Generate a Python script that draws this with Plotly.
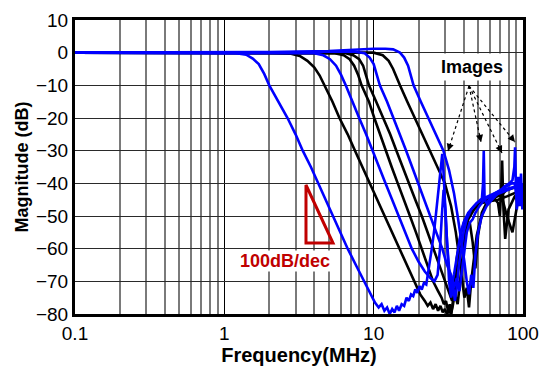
import plotly.graph_objects as go

# ---------------- data (frequency in MHz, magnitude in dB) ----------------
f1 = [0.1, 0.2, 0.4, 0.8, 1.2, 1.4, 1.55, 1.7, 1.85, 2.0, 2.3, 2.65, 3.0, 3.35, 3.8, 4.25, 4.8, 5.35, 6.0, 6.7, 7.6, 8.6, 9.5, 10.2, 10.8, 11.3, 11.8, 12.3, 12.8, 13.3, 13.8, 14.3, 14.8, 15.4, 16.0, 16.6, 17.2, 17.8, 18.4, 19.0, 19.6, 20.3, 21.0, 21.7, 22.5, 23.5, 24.5, 25.5, 26.5, 27.5, 28.3, 28.8, 29.3, 30.0, 31.0, 32.0, 33.0, 34.5, 36.0, 38.0, 40.0, 43.0, 47.0, 52.0, 58.0, 65.0, 72.0, 80.0, 90.0, 100.0]
m1 = [0, 0, 0, 0, -0.2, -0.6, -1.8, -3.5, -6.5, -10, -15, -20, -25, -30, -35, -40, -45, -50, -55, -60, -65, -70, -74, -76.5, -78, -77, -79, -78, -80, -78.5, -79.5, -77.5, -79, -77, -77.5, -75, -76, -74, -74.5, -72.5, -73.5, -71.5, -72.5, -70.5, -71, -66, -60, -54, -47, -40, -34, -31, -36, -46, -58, -66, -72, -68, -62, -56, -52, -49, -47, -45, -44, -43, -42, -41.5, -41, -41]

fA = [0.1, 0.3, 1, 2, 2.8, 3.2, 3.6, 4.0, 4.35, 4.7, 5.3, 5.9, 6.7, 7.5, 8.4, 9.4, 10.5, 11.8, 13.3, 14.9, 16.7, 18.7, 20.5, 22.0, 23.0, 24.0, 25.0, 26.0, 27.0, 28.0, 29.0, 30.0, 31.0, 32.0, 33.0, 34.0, 35.0, 36.5, 38.0, 40.0, 43.0, 47.0, 52.0, 58.0, 64.0, 68.0, 70.0, 71.5, 72.5, 74.0, 76.0, 80.0, 88.0, 95.0, 100.0]
mA = [0, 0, 0, 0, -0.3, -1, -2.5, -4.5, -7, -10, -15, -20, -25, -30, -35, -40, -45, -50, -55, -60, -65, -70, -74, -76, -77.5, -76.5, -78.5, -77, -79, -77.5, -79.5, -78.5, -80, -79, -80, -77, -73, -67, -61, -56, -51, -48, -46, -45, -44.5, -46, -50, -42, -33, -48, -57, -48, -44, -43, -43]

fB = [0.1, 0.5, 1.5, 3.0, 4.0, 4.6, 5.1, 5.6, 6.05, 6.5, 7.25, 8.0, 8.9, 9.8, 10.9, 12.0, 13.3, 14.7, 16.3, 18.0, 20.0, 22.0, 24.0, 25.5, 26.8, 27.8, 28.6, 29.4, 30.2, 31.0, 32.0, 33.0, 34.0, 35.0, 36.0, 37.0, 38.5, 40.0, 42.0, 45.0, 49.0, 53.0, 54.0, 54.6, 55.3, 57.0, 62.0, 70.0, 80.0, 90.0, 100.0]
mB = [0, 0, 0, 0, -0.2, -0.8, -2, -4, -6.8, -10, -15, -20, -25, -30, -35, -40, -45, -50, -55, -60, -64, -67, -69, -70, -68, -60, -50, -42, -48, -60, -70, -75, -71, -76, -72, -66, -60, -55, -51, -48, -46, -45, -40, -30, -45, -46, -44, -43, -42, -41, -41]

fC = [0.1, 0.5, 2, 4, 5.5, 6.3, 6.9, 7.4, 7.9, 8.3, 9.3, 10.1, 11.0, 12.0, 13.2, 14.5, 16.0, 17.5, 19.2, 21.0, 23.0, 25.0, 27.0, 28.5, 29.5, 30.5, 31.5, 32.3, 33.0, 34.0, 35.0, 36.0, 37.5, 39.0, 41.0, 44.0, 48.0, 53.0, 60.0, 68.0, 78.0, 88.0, 100.0]
mC = [0, 0, 0, 0, -0.2, -0.8, -2, -4, -7, -10, -15, -20, -25, -30, -35, -40, -45, -50, -55, -60, -65, -70, -73, -75, -77, -76, -79, -77, -80, -76, -70, -63, -58, -54, -51, -49, -47, -46, -45.5, -45, -44, -43, -43]

fD = [0.1, 0.5, 2, 5, 6.5, 7.3, 8.0, 8.5, 8.9, 9.3, 10.4, 11.6, 12.9, 14.2, 15.6, 17.2, 19.0, 21.0, 23.0, 25.2, 27.5, 30.0, 32.0, 33.5, 35.0, 36.5, 37.5, 38.5, 39.5, 40.5, 42.0, 44.0, 46.0, 48.0, 50.0, 53.0, 57.0, 62.0, 67.0, 72.0, 78.0, 85.0, 92.0, 100.0]
mD = [0, 0, 0, 0, -0.2, -0.8, -2, -4, -7, -10, -15, -20, -25, -30, -35, -40, -45, -50, -55, -60, -65, -70, -73, -76, -74, -77, -72, -66, -62, -58, -54, -52, -58, -66, -56, -49, -46, -44, -43.5, -44, -50, -55, -46, -42]

fE = [0.1, 0.5, 2, 5, 7.5, 8.7, 9.4, 10.0, 10.5, 11.0, 12.3, 13.6, 15.0, 16.5, 18.1, 19.9, 21.8, 24.0, 26.3, 28.8, 31.0, 33.0, 34.5, 36.0, 37.5, 39.0, 40.5, 42.0, 44.0, 46.0, 48.0, 51.0, 55.0, 60.0, 66.0, 72.0, 78.0, 84.0, 88.0, 91.0, 95.0, 100.0]
mE = [0, 0, 0, 0.3, 0.3, -0.2, -1.5, -3.5, -6.5, -10, -15, -20, -25, -30, -35, -40, -45, -50, -55, -60, -65, -68, -72, -69, -73, -67, -60, -55, -52, -51, -49, -47, -45, -44, -43, -42, -41, -40, -40, -45, -39, -42]

fF = [0.1, 0.5, 2, 5, 8, 10, 11.5, 12.6, 13.5, 14.2, 15.0, 16.8, 18.9, 21.2, 23.8, 26.7, 30.0, 33.0, 35.5, 37.5, 39.0, 40.5, 42.0, 43.5, 45.0, 47.0, 49.0, 52.0, 56.0, 61.0, 67.0, 72.0, 78.0, 85.0, 92.0, 100.0]
mF = [0, 0, 0, 0, 0.2, 0, -0.8, -2.5, -5, -7.5, -10, -15, -20, -25, -30, -35, -40, -47, -55, -63, -70, -75, -72, -78, -70, -62, -56, -51, -47, -45, -44, -43.5, -42, -41.5, -41, -41]

fG = [0.1, 0.5, 2, 5, 8, 10, 12, 13.5, 15.0, 16.0, 17.0, 17.8, 18.5, 20.7, 23.3, 26.1, 29.3, 32.0, 34.5, 36.5, 38.5, 40.5, 42.0, 43.5, 45.0, 46.5, 48.0, 50.0, 53.0, 57.0, 62.0, 68.0, 75.0, 81.0, 85.0, 87.5, 88.5, 89.5, 91.0, 93.0, 95.0, 97.0, 99.0, 100.0]
mG = [0, 0, 0.2, 0.5, 1, 1.2, 1.2, 1, 0, -1.5, -4, -7, -10, -15, -20, -25, -30, -36, -43, -50, -57, -64, -70, -74, -68, -72, -62, -55, -50, -47, -45, -43, -41, -40, -39, -35, -29, -40, -48, -38, -47, -37, -48, -40]

series = [
    (fA, mA, "black"), (fC, mC, "black"), (fD, mD, "black"), (fF, mF, "black"),
    (f1, m1, "#0000FF"), (fB, mB, "#0000FF"), (fE, mE, "#0000FF"), (fG, mG, "#0000FF"),
]

x_ticks = [0.1, 1, 10, 100]
x_ticktext = ["0.1", "1", "10", "100"]
y_ticks = [10, 0, -10, -20, -30, -40, -50, -60, -70, -80]
minor_x = [m * d for d in (0.1, 1, 10) for m in range(2, 10)]

fig = go.Figure()
for fx, my, col in series:
    fig.add_trace(go.Scatter(x=fx, y=my, mode="lines",
                             line=dict(color=col, width=2.6), showlegend=False))

FAM = "Liberation Sans, Arial"
tick_font = dict(family=FAM, size=19, color="black")

fig.update_layout(
    width=544, height=367,
    margin=dict(l=75, r=21, t=20, b=53),
    paper_bgcolor="white", plot_bgcolor="white",
    xaxis=dict(type="log", range=[-1, 2], tickvals=x_ticks, ticktext=x_ticktext,
               showgrid=True, gridcolor="black", gridwidth=1.2,
               minor=dict(tickvals=minor_x, showgrid=True, gridcolor="#7a7a7a", gridwidth=1.6,
                          ticks=""),
               showline=True, linecolor="black", linewidth=3, mirror=True,
               ticks="", tickfont=tick_font, automargin=False,
               title=dict(text="<b>Frequency(MHz)</b>", font=dict(family=FAM, size=20, color="black"),
                          standoff=1),
               zeroline=False),
    yaxis=dict(range=[-80, 10], tickvals=y_ticks, showgrid=True,
               gridcolor="#2a2a2a", gridwidth=1.4,
               showline=True, linecolor="black", linewidth=3, mirror=True,
               ticks="", tickfont=tick_font, automargin=False,
               title=dict(text="<b>Magnitude (dB)</b>", font=dict(family=FAM, size=18, color="black"),
                          standoff=3),
               zeroline=False),
)

# red 100 dB/dec slope triangle (paper coordinates)
fig.add_shape(type="path", xref="paper", yref="paper",
              path="M 0.5156,0.4388 L 0.5156,0.2415 L 0.5759,0.2415 Z",
              line=dict(color="#C00000", width=3))
fig.add_annotation(xref="paper", yref="paper", x=0.469, y=0.180,
                   xanchor="center", yanchor="middle",
                   text="<b>100dB/dec</b>", showarrow=False, bgcolor="white", borderpad=0,
                   font=dict(family=FAM, size=18, color="#C00000"))

# "Images" label with dotted arrows
fig.add_annotation(xref="paper", yref="paper", x=0.8862, y=0.840,
                   xanchor="center", yanchor="middle",
                   text="<b>Images</b>", showarrow=False, bgcolor="white", borderpad=3,
                   font=dict(family=FAM, size=18, color="black"))
conv = (0.8795, 0.7755)
targets = [(0.8326, 0.5544, 2.5, -7.7), (0.9063, 0.5850, -1.7, -7.8),
           (0.9531, 0.5476, -3.5, -7.2), (0.9821, 0.5850, -5.1, -6.2)]
for tx, ty, ax, ay in targets:
    fig.add_shape(type="line", xref="paper", yref="paper",
                  x0=conv[0], y0=conv[1], x1=tx, y1=ty,
                  line=dict(color="black", width=1.2, dash="dot"))
    fig.add_annotation(xref="paper", yref="paper", x=tx, y=ty, ax=ax, ay=ay,
                       text="", showarrow=True, arrowhead=2, arrowsize=1.2,
                       arrowwidth=1.2, arrowcolor="black")

fig.write_html("out.html")
